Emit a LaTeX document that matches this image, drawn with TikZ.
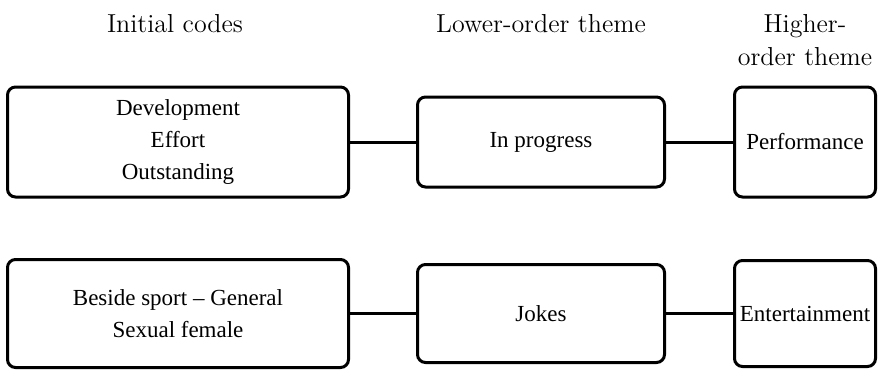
\documentclass[tikz,border=0pt]{standalone}
\usepackage{fontspec}
\newfontfamily\boxfont[Ligatures=TeX]{Liberation Serif}
\begin{document}
\begin{tikzpicture}[x=.5pt, y=-.5pt,
  every path/.style={draw=black, line width=1.5pt},
  every node/.style={font={\boxfont\fontsize{11.5}{16}\selectfont}, draw=black, rectangle,
    rounded corners=4pt, align=center, inner sep=0pt, outer sep=0pt},
  head/.style={draw=none, font={\fontsize{13}{16.5}\selectfont}, anchor=base}]
\path[use as bounding box, draw=none] (0,0) rectangle (880,371);
\node[head] (initial) at (175,32) {Initial codes};
\node[head] (lower) at (541,32) {Lower-order theme};
\node[head] (higher) at (805,65) {Higher-\\order theme};
\node[minimum width=170.5pt, minimum height=55pt] (development) at (178,142) {Development\\Effort\\Outstanding};
\node[minimum width=123.5pt, minimum height=45pt] (progress) at (541,142) {In progress};
\node[minimum width=70.5pt, minimum height=55pt] (performance) at (805,142) {Performance};
\node[minimum width=170.5pt, minimum height=54pt] (beside) at (178,313.5) {Beside sport -- General\\Sexual female};
\node[minimum width=123.5pt, minimum height=49pt] (jokes) at (541,313.5) {Jokes};
\node[minimum width=70.5pt, minimum height=53pt] (entertainment) at (805,313.5) {Entertainment};
\path (development) -- (progress);
\path (progress) -- (performance);
\path (beside) -- (jokes);
\path (jokes) -- (entertainment);
\end{tikzpicture}
\end{document}
